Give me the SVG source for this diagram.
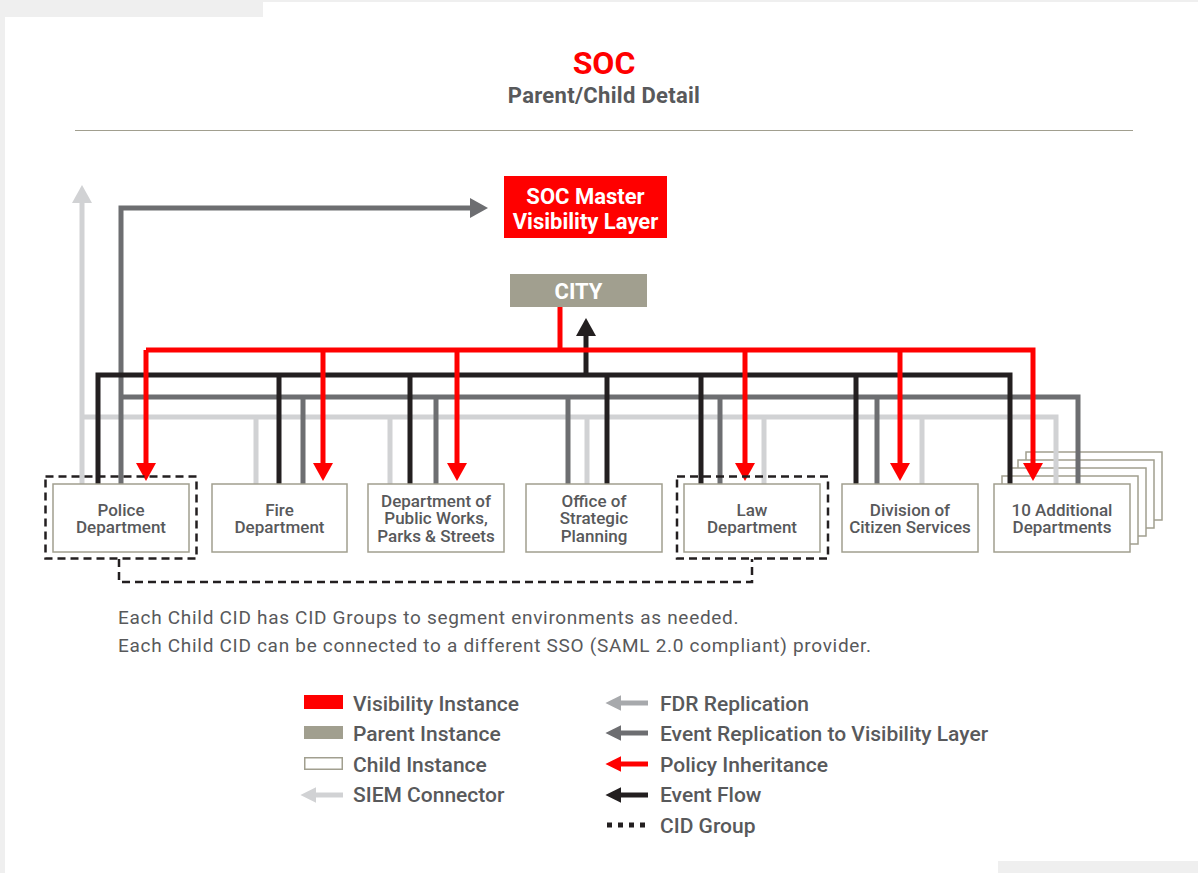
<svg xmlns="http://www.w3.org/2000/svg" width="1198" height="873" viewBox="0 0 1198 873">
<style>
.bg{fill:#efefef}
.t{font-family:Roboto,"Liberation Sans",Arial,sans-serif;fill:#58595b}
.lbl{font-size:17px;font-weight:500;text-anchor:middle}
.leg{font-size:21px;font-weight:500}
.note{font-size:19px;font-weight:400;letter-spacing:0.7px}
.box{fill:#fff;stroke:#a19f8f;stroke-width:1.5}
.wt{font-family:Roboto,"Liberation Sans",Arial,sans-serif;fill:#fff;font-weight:700;text-anchor:middle}
.ln{fill:none;stroke-width:5}
.red{stroke:#ff0000}
.blk{stroke:#231f20}
.dg{stroke:#6d6e71}
.lg{stroke:#d1d2d4}
.fdr{stroke:#a7a9ac}
.grp{fill:none;stroke:#231f20;stroke-width:2.5;stroke-dasharray:8 5}
</style>
<defs>
<marker id="aRed" markerUnits="userSpaceOnUse" markerWidth="20" markerHeight="20" viewBox="0 -10 18 20" refX="4" refY="0" orient="auto"><path d="M0,-10L18,0L0,10Z" fill="#ff0000"/></marker>
<marker id="aBlk" markerUnits="userSpaceOnUse" markerWidth="20" markerHeight="20" viewBox="0 -10 18 20" refX="4" refY="0" orient="auto"><path d="M0,-10L18,0L0,10Z" fill="#231f20"/></marker>
<marker id="aDg" markerUnits="userSpaceOnUse" markerWidth="20" markerHeight="20" viewBox="0 -10 18 20" refX="4" refY="0" orient="auto"><path d="M0,-10L18,0L0,10Z" fill="#6d6e71"/></marker>
<marker id="aLg" markerUnits="userSpaceOnUse" markerWidth="20" markerHeight="20" viewBox="0 -10 18 20" refX="4" refY="0" orient="auto"><path d="M0,-10L18,0L0,10Z" fill="#d1d2d4"/></marker>
<marker id="sRed" markerUnits="userSpaceOnUse" markerWidth="16" markerHeight="16" viewBox="0 -7 14 14" refX="3" refY="0" orient="auto"><path d="M0,-7L14,0L0,7Z" fill="#ff0000"/></marker>
<marker id="sBlk" markerUnits="userSpaceOnUse" markerWidth="16" markerHeight="16" viewBox="0 -7 14 14" refX="3" refY="0" orient="auto"><path d="M0,-7L14,0L0,7Z" fill="#231f20"/></marker>
<marker id="sDg" markerUnits="userSpaceOnUse" markerWidth="16" markerHeight="16" viewBox="0 -7 14 14" refX="3" refY="0" orient="auto"><path d="M0,-7L14,0L0,7Z" fill="#6d6e71"/></marker>
<marker id="sLg" markerUnits="userSpaceOnUse" markerWidth="16" markerHeight="16" viewBox="0 -7 14 14" refX="3" refY="0" orient="auto"><path d="M0,-7L14,0L0,7Z" fill="#d1d2d4"/></marker>
<marker id="sFdr" markerUnits="userSpaceOnUse" markerWidth="16" markerHeight="16" viewBox="0 -7 14 14" refX="3" refY="0" orient="auto"><path d="M0,-7L14,0L0,7Z" fill="#a7a9ac"/></marker>
</defs>

<rect class="bg" x="0" y="0" width="1198" height="873"/>
<path d="M5,17H263V2H1198V861H998V873H5Z" fill="#fff"/>

<g id="title">
<text class="t" x="604" y="74" text-anchor="middle" font-size="32" font-weight="700" style="fill:#ff0000">SOC</text>
<text class="t" x="604" y="103" text-anchor="middle" font-size="22" font-weight="700" letter-spacing="0.3">Parent/Child Detail</text>
<line x1="75" y1="130.5" x2="1133" y2="130.5" stroke="#a19f8f" stroke-width="1.2"/>
</g>

<g id="soc-master">
<rect x="504" y="176" width="163" height="62" fill="#ff0000"/>
<text class="wt" x="585.5" y="204" font-size="22">SOC Master</text>
<text class="wt" x="585.5" y="229" font-size="22">Visibility Layer</text>
</g>

<g id="city">
<rect x="510" y="274" width="137" height="33" fill="#a19f8f"/>
<text class="wt" x="578.5" y="299" font-size="22">CITY</text>
</g>

<g id="additional-stack">
<rect class="box" x="1026" y="452" width="136" height="68"/>
<rect class="box" x="1018" y="460" width="136" height="68"/>
<rect class="box" x="1010" y="468" width="136" height="68"/>
<rect class="box" x="1002" y="476" width="136" height="68"/>
</g>

<g id="connectors">
<path class="ln lg" d="M82,484V199" marker-end="url(#aLg)"/>
<path class="ln lg" d="M82,417H1056V484"/>
<path class="ln lg" d="M256,417V484M390,417V484M587,417V484M764,417V484M922,417V484"/>
<path class="ln dg" d="M121,484V208H474" marker-end="url(#aDg)"/>
<path class="ln dg" d="M121,397H1078V484"/>
<path class="ln dg" d="M303,397V484M436,397V484M568,397V484M720,397V484M877,397V484"/>
<path class="ln blk" d="M98,484V375H1010V484"/>
<path class="ln blk" d="M279,375V484M410,375V484M607,375V484M701,375V484M856,375V484"/>
<path class="ln blk" d="M586,375V332" marker-end="url(#aBlk)"/>
<path class="ln red" d="M560,307V350"/>
<path class="ln red" d="M146,350H1033V467" marker-end="url(#aRed)"/>
<path class="ln red" d="M146,350V467" marker-end="url(#aRed)"/>
<path class="ln red" d="M323,350V467" marker-end="url(#aRed)"/>
<path class="ln red" d="M457,350V467" marker-end="url(#aRed)"/>
<path class="ln red" d="M745,350V467" marker-end="url(#aRed)"/>
<path class="ln red" d="M900,350V467" marker-end="url(#aRed)"/>
<rect class="grp" x="45.5" y="476.5" width="151" height="82"/>
<rect class="grp" x="677" y="476.5" width="151" height="82"/>
<path class="grp" d="M119,559V582H752V559"/>
</g>

<g id="police">
<rect class="box" x="53" y="484" width="136" height="68"/>
<text class="t lbl" x="121" y="516">Police</text>
<text class="t lbl" x="121" y="533">Department</text>
</g>
<g id="fire">
<rect class="box" x="212" y="484" width="135" height="68"/>
<text class="t lbl" x="279.5" y="516">Fire</text>
<text class="t lbl" x="279.5" y="533">Department</text>
</g>
<g id="public-works">
<rect class="box" x="368" y="484" width="136" height="68"/>
<text class="t lbl" x="436" y="507">Department of</text>
<text class="t lbl" x="436" y="524">Public Works,</text>
<text class="t lbl" x="436" y="542">Parks &amp; Streets</text>
</g>
<g id="strategic-planning">
<rect class="box" x="526" y="484" width="136" height="68"/>
<text class="t lbl" x="594" y="507">Office of</text>
<text class="t lbl" x="594" y="524">Strategic</text>
<text class="t lbl" x="594" y="542">Planning</text>
</g>
<g id="law">
<rect class="box" x="684" y="484" width="136" height="68"/>
<text class="t lbl" x="752" y="516">Law</text>
<text class="t lbl" x="752" y="533">Department</text>
</g>
<g id="citizen-services">
<rect class="box" x="842" y="484" width="136" height="68"/>
<text class="t lbl" x="910" y="516">Division of</text>
<text class="t lbl" x="910" y="533">Citizen Services</text>
</g>
<g id="additional">
<rect class="box" x="994" y="484" width="136" height="68"/>
<text class="t lbl" x="1062" y="516">10 Additional</text>
<text class="t lbl" x="1062" y="533">Departments</text>
</g>

<g id="notes">
<text class="t note" x="118" y="624">Each Child CID has CID Groups to segment environments as needed.</text>
<text class="t note" x="118" y="652">Each Child CID can be connected to a different SSO (SAML 2.0 compliant) provider.</text>
</g>

<g id="legend">
<rect x="304" y="695" width="39" height="14" fill="#ff0000"/>
<text class="t leg" x="353" y="711">Visibility Instance</text>
<rect x="304" y="726" width="39" height="13" fill="#a19f8f"/>
<text class="t leg" x="353" y="741">Parent Instance</text>
<rect x="304.75" y="757.75" width="37.5" height="11.5" fill="#fff" stroke="#a19f8f" stroke-width="1.5"/>
<text class="t leg" x="353" y="772">Child Instance</text>
<path class="ln lg" d="M343,795H313" marker-end="url(#sLg)"/>
<text class="t leg" x="353" y="802">SIEM Connector</text>
<path class="ln fdr" d="M648,703H618" marker-end="url(#sFdr)"/>
<text class="t leg" x="660" y="711">FDR Replication</text>
<path class="ln dg" d="M648,733H618" marker-end="url(#sDg)"/>
<text class="t leg" x="660" y="741">Event Replication to Visibility Layer</text>
<path class="ln red" d="M648,764H618" marker-end="url(#sRed)"/>
<text class="t leg" x="660" y="772">Policy Inheritance</text>
<path class="ln blk" d="M648,795H618" marker-end="url(#sBlk)"/>
<text class="t leg" x="660" y="802">Event Flow</text>
<path d="M607,825H648" stroke="#231f20" stroke-width="5" stroke-dasharray="5 6"/>
<text class="t leg" x="660" y="833">CID Group</text>
</g>
</svg>
